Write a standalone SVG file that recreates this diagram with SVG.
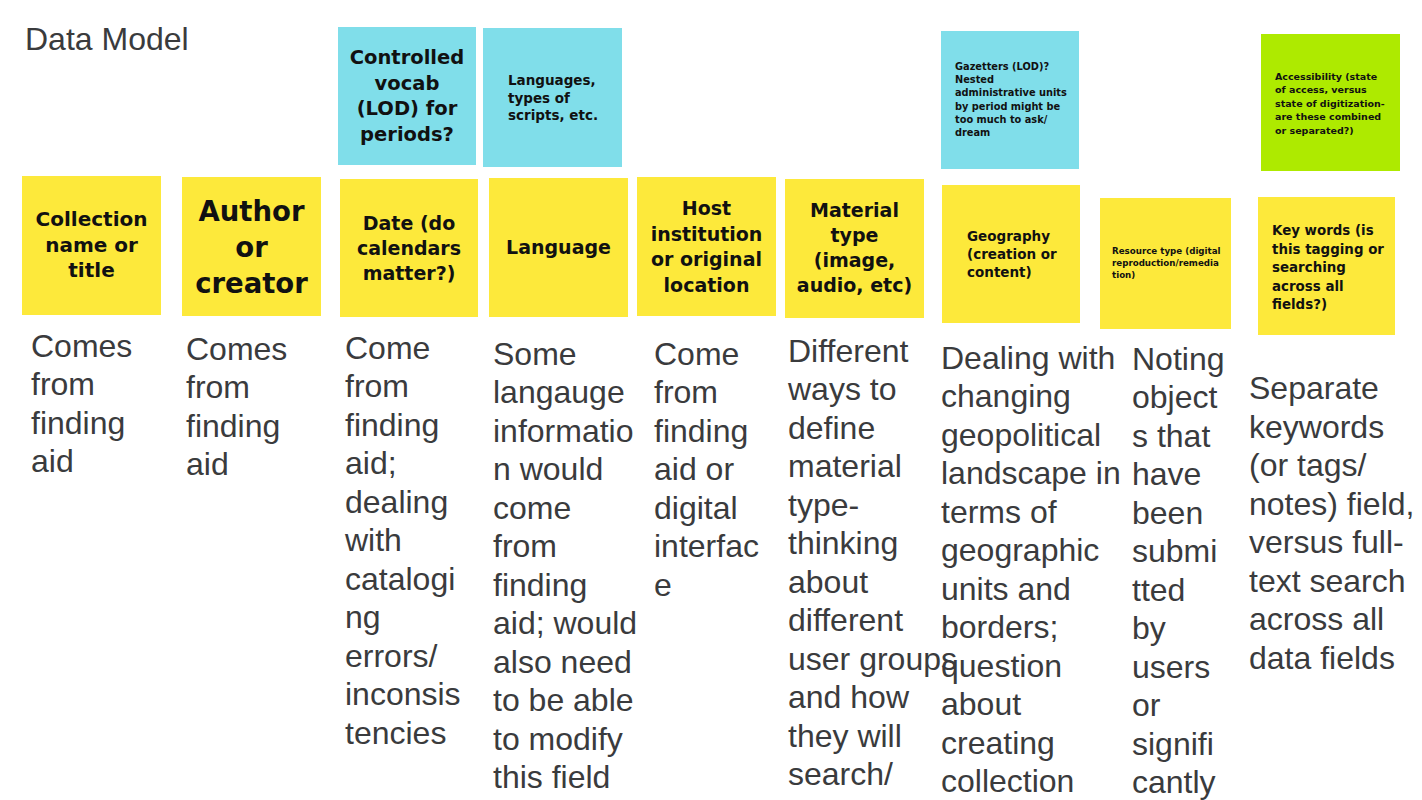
<svg xmlns="http://www.w3.org/2000/svg" width="1422" height="800" viewBox="0 0 1422 800">
  <style>
    .bg { fill: #ffffff; }
    .yellow { fill: #FDE93B; }
    .cyan { fill: #80DEEA; }
    .green { fill: #AEEA00; }
    .note { font-family: "DejaVu Sans", "Liberation Sans", sans-serif; font-weight: bold; fill: #111111; }
    .mid { text-anchor: middle; }
    .body { font-family: "Liberation Sans", Arial, sans-serif; font-size: 32px; fill: #3a3b3d; }
  </style>
  <rect class="bg" x="0" y="0" width="1422" height="800"/>

  <text class="body" x="25" y="50">Data Model</text>

  <!-- top row: cyan / green sticky notes -->
  <g id="controlled-vocab">
    <rect class="cyan" x="338" y="27" width="138" height="138"/>
    <text class="note mid" font-size="19.5" x="407" y="64">
      <tspan x="407">Controlled</tspan><tspan x="407" dy="25.5">vocab</tspan><tspan x="407" dy="25.5">(LOD) for</tspan><tspan x="407" dy="25.5">periods?</tspan>
    </text>
  </g>
  <g id="languages-scripts">
    <rect class="cyan" x="483" y="28" width="139" height="139"/>
    <text class="note" font-size="13.5" x="508" y="85">
      <tspan x="508">Languages,</tspan><tspan x="508" dy="17.5">types of</tspan><tspan x="508" dy="17.5">scripts, etc.</tspan>
    </text>
  </g>
  <g id="gazetteers">
    <rect class="cyan" x="941" y="31" width="138" height="138"/>
    <text class="note" font-size="9.8" x="955" y="70">
      <tspan x="955">Gazetters (LOD)?</tspan><tspan x="955" dy="13.2">Nested</tspan><tspan x="955" dy="13.2">administrative units</tspan><tspan x="955" dy="13.2">by period might be</tspan><tspan x="955" dy="13.2">too much to ask/</tspan><tspan x="955" dy="13.2">dream</tspan>
    </text>
  </g>
  <g id="accessibility">
    <rect class="green" x="1261" y="34" width="139" height="137"/>
    <text class="note" font-size="9.5" x="1275" y="80">
      <tspan x="1275">Accessibility (state</tspan><tspan x="1275" dy="13.4">of access, versus</tspan><tspan x="1275" dy="13.4">state of digitization-</tspan><tspan x="1275" dy="13.4">are these combined</tspan><tspan x="1275" dy="13.4">or separated?)</tspan>
    </text>
  </g>

  <!-- field row: yellow sticky notes -->
  <g id="collection-name">
    <rect class="yellow" x="22" y="176" width="139" height="139"/>
    <text class="note mid" font-size="20" x="91.5" y="226">
      <tspan x="91.5">Collection</tspan><tspan x="91.5" dy="25.5">name or</tspan><tspan x="91.5" dy="25.5">title</tspan>
    </text>
  </g>
  <g id="author-creator">
    <rect class="yellow" x="182" y="177" width="139" height="139"/>
    <text class="note mid" font-size="27.5" x="251.5" y="221">
      <tspan x="251.5">Author</tspan><tspan x="251.5" dy="36">or</tspan><tspan x="251.5" dy="36">creator</tspan>
    </text>
  </g>
  <g id="date">
    <rect class="yellow" x="340" y="179" width="138" height="138"/>
    <text class="note mid" font-size="19" x="409" y="230">
      <tspan x="409">Date (do</tspan><tspan x="409" dy="25">calendars</tspan><tspan x="409" dy="25">matter?)</tspan>
    </text>
  </g>
  <g id="language">
    <rect class="yellow" x="489" y="178" width="139" height="139"/>
    <text class="note mid" font-size="19" x="558.5" y="254">Language</text>
  </g>
  <g id="host-institution">
    <rect class="yellow" x="637" y="177" width="139" height="139"/>
    <text class="note mid" font-size="19" x="706.5" y="215">
      <tspan x="706.5">Host</tspan><tspan x="706.5" dy="25.5">institution</tspan><tspan x="706.5" dy="25.5">or original</tspan><tspan x="706.5" dy="25.5">location</tspan>
    </text>
  </g>
  <g id="material-type">
    <rect class="yellow" x="785" y="179" width="139" height="139"/>
    <text class="note mid" font-size="19" x="854.5" y="216.5">
      <tspan x="854.5">Material</tspan><tspan x="854.5" dy="25">type</tspan><tspan x="854.5" dy="25">(image,</tspan><tspan x="854.5" dy="25">audio, etc)</tspan>
    </text>
  </g>
  <g id="geography">
    <rect class="yellow" x="942" y="185" width="138" height="138"/>
    <text class="note" font-size="13.5" x="967" y="240.5">
      <tspan x="967">Geography</tspan><tspan x="967" dy="18.3">(creation or</tspan><tspan x="967" dy="18.3">content)</tspan>
    </text>
  </g>
  <g id="resource-type">
    <rect class="yellow" x="1100" y="198" width="131" height="131"/>
    <text class="note" font-size="8.7" x="1112" y="254">
      <tspan x="1112">Resource type (digital</tspan><tspan x="1112" dy="12">reproduction/remedia</tspan><tspan x="1112" dy="12">tion)</tspan>
    </text>
  </g>
  <g id="key-words">
    <rect class="yellow" x="1258" y="197" width="137" height="138"/>
    <text class="note" font-size="13.4" x="1272" y="235">
      <tspan x="1272">Key words (is</tspan><tspan x="1272" dy="18.5">this tagging or</tspan><tspan x="1272" dy="18.5">searching</tspan><tspan x="1272" dy="18.5">across all</tspan><tspan x="1272" dy="18.5">fields?)</tspan>
    </text>
  </g>

  <!-- notes written under each field -->
  <g id="notes-text">
    <text class="body" x="31" y="356.5">
      <tspan x="31">Comes</tspan><tspan x="31" dy="38.5">from</tspan><tspan x="31" dy="38.5">finding</tspan><tspan x="31" dy="38.5">aid</tspan>
    </text>
    <text class="body" x="186" y="359.5">
      <tspan x="186">Comes</tspan><tspan x="186" dy="38.5">from</tspan><tspan x="186" dy="38.5">finding</tspan><tspan x="186" dy="38.5">aid</tspan>
    </text>
    <text class="body" x="345" y="358.5">
      <tspan x="345">Come</tspan><tspan x="345" dy="38.5">from</tspan><tspan x="345" dy="38.5">finding</tspan><tspan x="345" dy="38.5">aid;</tspan><tspan x="345" dy="38.5">dealing</tspan><tspan x="345" dy="38.5">with</tspan><tspan x="345" dy="38.5">catalogi</tspan><tspan x="345" dy="38.5">ng</tspan><tspan x="345" dy="38.5">errors/</tspan><tspan x="345" dy="38.5">inconsis</tspan><tspan x="345" dy="38.5">tencies</tspan>
    </text>
    <text class="body" x="493" y="364.5">
      <tspan x="493">Some</tspan><tspan x="493" dy="38.5">langauge</tspan><tspan x="493" dy="38.5">informatio</tspan><tspan x="493" dy="38.5">n would</tspan><tspan x="493" dy="38.5">come</tspan><tspan x="493" dy="38.5">from</tspan><tspan x="493" dy="38.5">finding</tspan><tspan x="493" dy="38.5">aid; would</tspan><tspan x="493" dy="38.5">also need</tspan><tspan x="493" dy="38.5">to be able</tspan><tspan x="493" dy="38.5">to modify</tspan><tspan x="493" dy="38.5">this field</tspan>
    </text>
    <text class="body" x="654" y="364.5">
      <tspan x="654">Come</tspan><tspan x="654" dy="38.5">from</tspan><tspan x="654" dy="38.5">finding</tspan><tspan x="654" dy="38.5">aid or</tspan><tspan x="654" dy="38.5">digital</tspan><tspan x="654" dy="38.5">interfac</tspan><tspan x="654" dy="38.5">e</tspan>
    </text>
    <text class="body" x="788" y="361.5">
      <tspan x="788">Different</tspan><tspan x="788" dy="38.5">ways to</tspan><tspan x="788" dy="38.5">define</tspan><tspan x="788" dy="38.5">material</tspan><tspan x="788" dy="38.5">type-</tspan><tspan x="788" dy="38.5">thinking</tspan><tspan x="788" dy="38.5">about</tspan><tspan x="788" dy="38.5">different</tspan><tspan x="788" dy="38.5">user groups</tspan><tspan x="788" dy="38.5">and how</tspan><tspan x="788" dy="38.5">they will</tspan><tspan x="788" dy="38.5">search/</tspan>
    </text>
    <text class="body" x="941" y="368.5">
      <tspan x="941">Dealing with</tspan><tspan x="941" dy="38.5">changing</tspan><tspan x="941" dy="38.5">geopolitical</tspan><tspan x="941" dy="38.5">landscape in</tspan><tspan x="941" dy="38.5">terms of</tspan><tspan x="941" dy="38.5">geographic</tspan><tspan x="941" dy="38.5">units and</tspan><tspan x="941" dy="38.5">borders;</tspan><tspan x="941" dy="38.5">question</tspan><tspan x="941" dy="38.5">about</tspan><tspan x="941" dy="38.5">creating</tspan><tspan x="941" dy="38.5">collection</tspan>
    </text>
    <text class="body" x="1132" y="369.5">
      <tspan x="1132">Noting</tspan><tspan x="1132" dy="38.5">object</tspan><tspan x="1132" dy="38.5">s that</tspan><tspan x="1132" dy="38.5">have</tspan><tspan x="1132" dy="38.5">been</tspan><tspan x="1132" dy="38.5">submi</tspan><tspan x="1132" dy="38.5">tted</tspan><tspan x="1132" dy="38.5">by</tspan><tspan x="1132" dy="38.5">users</tspan><tspan x="1132" dy="38.5">or</tspan><tspan x="1132" dy="38.5">signifi</tspan><tspan x="1132" dy="38.5">cantly</tspan>
    </text>
    <text class="body" x="1249" y="399">
      <tspan x="1249">Separate</tspan><tspan x="1249" dy="38.5">keywords</tspan><tspan x="1249" dy="38.5">(or tags/</tspan><tspan x="1249" dy="38.5">notes) field,</tspan><tspan x="1249" dy="38.5">versus full-</tspan><tspan x="1249" dy="38.5">text search</tspan><tspan x="1249" dy="38.5">across all</tspan><tspan x="1249" dy="38.5">data fields</tspan>
    </text>
  </g>

  <!-- no connectors in this board -->
  <g id="connectors"/>
</svg>
